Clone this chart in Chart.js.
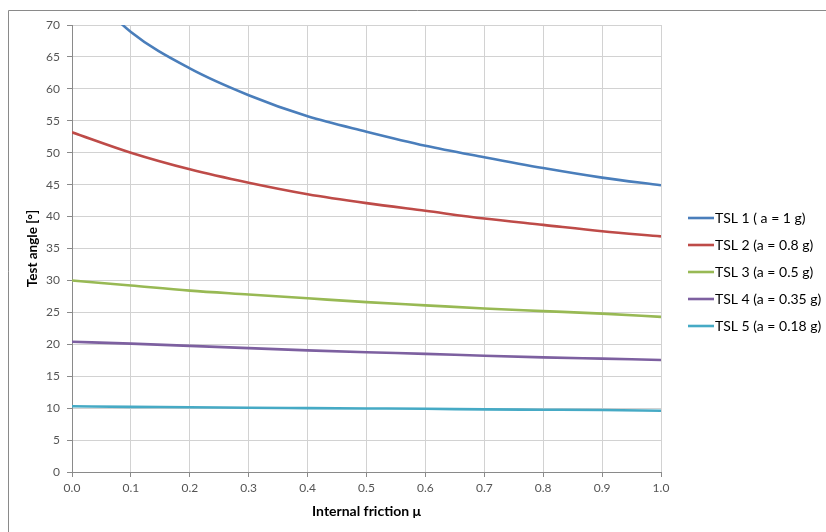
<!DOCTYPE html>
<html>
<head>
<meta charset="utf-8">
<script src="https://cdn.jsdelivr.net/npm/chart.js@4"></script>
<style>
  html, body { margin: 0; padding: 0; background: #fff; }
  #wrap { position: relative; width: 826px; height: 532px; }
</style>
</head>
<body>
<div id="wrap"><canvas id="chart" width="826" height="532"></canvas></div>
<script>
// internal friction values (x)
const mu = [0.0, 0.1, 0.2, 0.3, 0.4, 0.5, 0.6, 0.7, 0.8, 0.9, 1.0];

// test angle [deg] per test series
const tsl1 = [78.0, 68.9, 63.2, 59.0, 55.7, 53.3, 51.1, 49.3, 47.6, 46.1, 44.9];
const tsl2 = [53.2, 50.0, 47.4, 45.3, 43.5, 42.1, 40.9, 39.7, 38.7, 37.7, 36.9];
const tsl3 = [30.0, 29.2, 28.4, 27.8, 27.2, 26.6, 26.1, 25.6, 25.2, 24.8, 24.3];
const tsl4 = [20.4, 20.1, 19.75, 19.4, 19.05, 18.75, 18.5, 18.2, 17.95, 17.75, 17.55];
const tsl5 = [10.3, 10.2, 10.15, 10.05, 10.0, 9.95, 9.9, 9.8, 9.75, 9.7, 9.6];

const seriesLabels = ['TSL 1 ( a = 1 g)', 'TSL 2 (a = 0.8 g)', 'TSL 3 (a = 0.5 g)', 'TSL 4 (a = 0.35 g)', 'TSL 5 (a = 0.18 g)'];
const seriesColors = ['#4a7ebb', '#be4b48', '#98b954', '#7d60a0', '#46aac5'];
const series = [tsl1, tsl2, tsl3, tsl4, tsl5];

const FONT = 'Lato, "Open Sans", sans-serif';

const datasets = series.map((vals, i) => ({
    label: seriesLabels[i],
    data: vals.map((v, j) => ({ x: mu[j], y: v })),
    borderColor: seriesColors[i],
    backgroundColor: seriesColors[i],
    borderWidth: 2.6,
    pointRadius: 0,
    fill: false,
    cubicInterpolationMode: 'monotone',
}));

// frame lines + legend drawn by hand (Excel style)
const framePlugin = {
    id: 'frame',
    beforeDraw(chart) {
        const ctx = chart.ctx;
        ctx.save();
        ctx.strokeStyle = '#8a8a8a';
        ctx.lineWidth = 1;
        ctx.beginPath();
        ctx.moveTo(8.5, 532);
        ctx.lineTo(8.5, 10.5);
        ctx.lineTo(826, 10.5);
        ctx.stroke();
        ctx.restore();
    },
    afterDraw(chart) {
        const ctx = chart.ctx;
        ctx.save();
        ctx.font = '14px ' + FONT;
        ctx.textBaseline = 'middle';
        ctx.fillStyle = '#000';
        chart.data.datasets.forEach((ds, i) => {
            const y = 218 + i * 27;
            ctx.strokeStyle = ds.borderColor;
            ctx.lineWidth = 2.6;
            ctx.beginPath();
            ctx.moveTo(688, y);
            ctx.lineTo(714, y);
            ctx.stroke();
            ctx.fillText(ds.label, 715, y);
        });
        ctx.restore();
    }
};

const ctx = document.getElementById('chart').getContext('2d');

new Chart(ctx, {
    type: 'line',
    data: { datasets: datasets },
    options: {
        responsive: false,
        animation: false,
        layout: { padding: { left: 0, top: 25, right: 165, bottom: 0 } },
        plugins: {
            legend: { display: false },
            tooltip: { enabled: false },
        },
        scales: {
            x: {
                type: 'linear',
                min: 0,
                max: 1,
                afterFit: (s) => { s.height = 60; },
                ticks: {
                    stepSize: 0.1,
                    color: '#555',
                    font: { family: FONT, size: 12 },
                    padding: 4,
                    maxRotation: 0,
                    callback: (v) => v.toFixed(1),
                },
                grid: { color: '#d2d2d2', tickColor: '#8a8a8a', tickLength: 5 },
                border: { color: '#8a8a8a' },
                title: {
                    display: true,
                    text: 'Internal friction μ',
                    color: '#000',
                    font: { family: FONT, size: 14, weight: 'bold' },
                    padding: { top: 0, bottom: 12 },
                },
            },
            y: {
                min: 0,
                max: 70,
                afterFit: (s) => { s.width = 72; },
                ticks: {
                    stepSize: 5,
                    color: '#555',
                    font: { family: FONT, size: 12 },
                    padding: 7,
                },
                grid: { color: '#d2d2d2', tickColor: '#8a8a8a', tickLength: 5 },
                border: { color: '#8a8a8a' },
                title: {
                    display: true,
                    text: 'Test angle [°]',
                    color: '#000',
                    font: { family: FONT, size: 13.5, weight: 'bold' },
                    padding: { top: 25, bottom: 0 },
                },
            },
        },
    },
    plugins: [framePlugin],
});
</script>
</body>
</html>
